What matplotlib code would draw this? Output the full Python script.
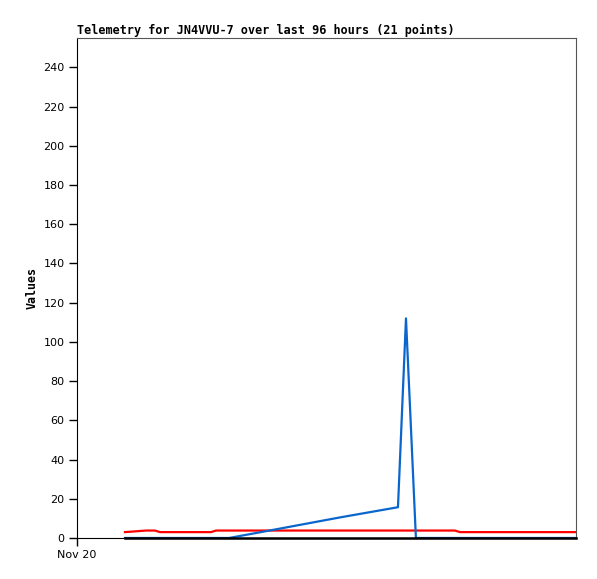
import matplotlib
matplotlib.use("Agg")
import matplotlib.pyplot as plt

# hours since Nov 20 00:00
hours = [9.23, 10.77, 13.27, 15.0, 15.97, 20.78, 25.78, 26.74, 29.24, 39.05,
         50.6, 61.75, 63.29, 64.25, 65.2, 68.87, 72.72, 73.68, 81.38, 89.07, 96.0]

red_values = [3.0, 3.3, 3.8, 3.8, 3.0, 3.0, 3.0, 3.8, 3.8, 3.8,
              3.8, 3.8, 3.8, 3.8, 3.8, 3.8, 3.8, 3.0, 3.0, 3.0, 3.0]

blue_values = [0, 0, 0, 0, 0, 0, 0, 0, 0, 4.8,
               10.5, 15.7, 112, 56, 0, 0, 0, 0, 0, 0, 0]

black_values = [0] * 21

x_tick_positions = [0]
x_tick_labels = ["Nov 20"]
y_ticks = list(range(0, 241, 20))

fig = plt.figure(figsize=(5.97, 5.79), dpi=100)
ax = fig.add_axes([77 / 597, 41 / 579, 499 / 597, 500 / 579])

ax.plot(hours, red_values, color="#ff0000", linewidth=1.6)
ax.plot(hours, blue_values, color="#0a66cc", linewidth=1.6)
ax.plot(hours, black_values, color="#000000", linewidth=1.8, clip_on=False,
        zorder=3)

ax.set_xlim(0, 96)
ax.set_ylim(0, 255)

ax.set_yticks(y_ticks)
ax.set_xticks(x_tick_positions)
ax.set_xticklabels(x_tick_labels)
ax.tick_params(axis="both", direction="out", length=6, width=1,
               labelsize=8, colors="black", pad=3)
for lbl in ax.get_xticklabels() + ax.get_yticklabels():
    lbl.set_fontfamily("DejaVu Sans")

for side in ["top", "right"]:
    ax.spines[side].set_color("#555555")
ax.spines["left"].set_color("black")
ax.spines["bottom"].set_color("black")

ax.set_ylabel("Values", fontfamily="DejaVu Sans Mono", fontweight="bold",
              fontsize=8.4, labelpad=3)
ax.set_title("Telemetry for JN4VVU-7 over last 96 hours (21 points)",
             fontfamily="DejaVu Sans Mono", fontweight="bold", fontsize=8.5,
             loc="left", pad=3)

fig.savefig("out.png", dpi=100)
